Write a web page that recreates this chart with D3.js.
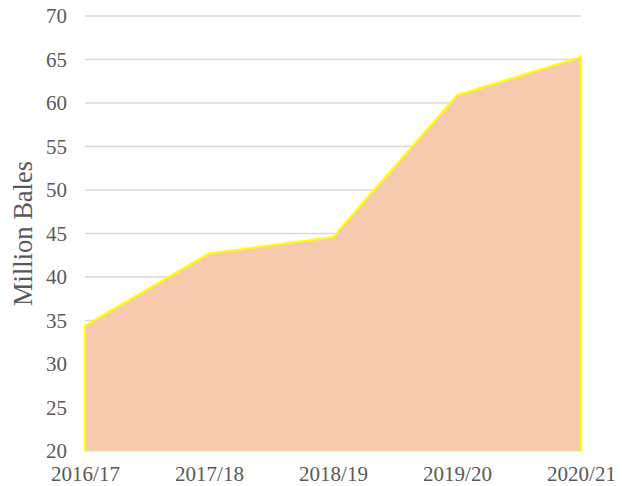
<!DOCTYPE html>
<html>
<head>
<meta charset="utf-8">
<script src="https://cdn.jsdelivr.net/npm/d3@7"></script>
<style>
  body { margin: 0; background: #fff; }
  text { font-family: "Liberation Serif", "Times New Roman", serif; fill: #595959; }
</style>
</head>
<body>
<div id="chart"></div>
<script>
// data
var seasons = ["2016/17", "2017/18", "2018/19", "2019/20", "2020/21"];
var bales = [34.4, 42.7, 44.6, 60.9, 65.3];
var yTicks = [20, 25, 30, 35, 40, 45, 50, 55, 60, 65, 70];

var W = 622, H = 486;
var margin = {top: 16, right: 41, bottom: 35, left: 85};
var width = W - margin.left - margin.right;
var height = H - margin.top - margin.bottom;

var svg = d3.select("#chart").append("svg")
    .attr("width", W)
    .attr("height", H)
  .append("g")
    .attr("transform", "translate(" + margin.left + "," + margin.top + ")");

var x = d3.scalePoint()
    .domain(seasons)
    .range([0, width]);

var y = d3.scaleLinear()
    .domain([20, 70])
    .range([height, 0]);

var data = seasons.map(function(s, i) { return {season: s, value: bales[i]}; });

// gridlines
svg.append("g")
    .attr("class", "grid")
  .selectAll("line")
  .data(yTicks.filter(function(t) { return t > 20; }))
  .enter().append("line")
    .attr("x1", 0)
    .attr("x2", width)
    .attr("y1", function(d) { return y(d); })
    .attr("y2", function(d) { return y(d); })
    .attr("stroke", "#d9d9d9")
    .attr("stroke-width", 1.5);

// area
var area = d3.area()
    .x(function(d) { return x(d.season); })
    .y0(y(20))
    .y1(function(d) { return y(d.value); });

svg.append("path")
    .datum(data)
    .attr("d", area)
    .attr("fill", "#f6cbad");

// bottom edge
svg.append("line")
    .attr("x1", 0)
    .attr("x2", width)
    .attr("y1", y(20))
    .attr("y2", y(20))
    .attr("stroke", "#e4e6b8")
    .attr("stroke-width", 1.5);

// outline: left edge, top line, right edge
var outline = [{season: seasons[0], value: 20}].concat(data, [{season: seasons[seasons.length - 1], value: 20}]);
var line = d3.line()
    .x(function(d) { return x(d.season); })
    .y(function(d) { return y(d.value); });

svg.append("path")
    .datum(outline)
    .attr("d", line)
    .attr("fill", "none")
    .attr("stroke", "#ffff00")
    .attr("stroke-width", 2.2);

// axes
var yAxis = d3.axisLeft(y)
    .tickValues(yTicks)
    .tickSize(0)
    .tickPadding(18);

svg.append("g")
    .attr("class", "y axis")
    .call(yAxis)
    .call(function(g) { g.select(".domain").remove(); })
    .selectAll("text")
    .style("font-size", "21px")
    .style("font-family", "Liberation Serif, serif")
    .attr("fill", "#595959");

var xAxis = d3.axisBottom(x)
    .tickSize(0)
    .tickPadding(15);

svg.append("g")
    .attr("class", "x axis")
    .attr("transform", "translate(0," + height + ")")
    .call(xAxis)
    .call(function(g) { g.select(".domain").remove(); })
    .selectAll("text")
    .style("font-size", "21px")
    .style("font-family", "Liberation Serif, serif")
    .attr("fill", "#595959");

// y title
svg.append("text")
    .attr("transform", "translate(" + (-margin.left + 32) + "," + (height / 2) + ") rotate(-90)")
    .attr("text-anchor", "middle")
    .attr("textLength", 145)
    .attr("lengthAdjust", "spacingAndGlyphs")
    .style("font-size", "27px")
    .text("Million Bales");
</script>
</body>
</html>
